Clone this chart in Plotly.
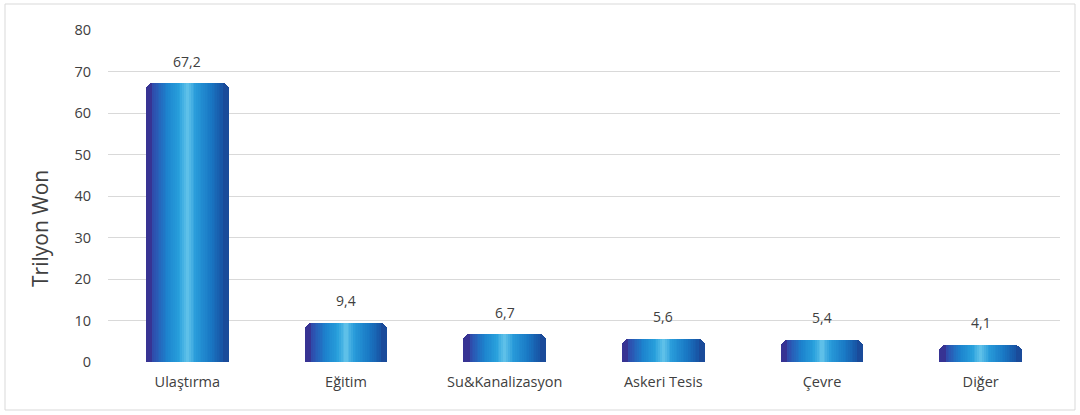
import plotly.graph_objects as go

categories = ["Ulaştırma", "Eğitim", "Su&Kanalizasyon", "Askeri Tesis", "Çevre", "Diğer"]
values = [67.2, 9.4, 6.7, 5.6, 5.4, 4.1]
value_labels = ["67,2", "9,4", "6,7", "5,6", "5,4", "4,1"]
y_ticks = [0, 10, 20, 30, 40, 50, 60, 70, 80]

# horizontal gradient stops (position across bar 0..1, rgb)
stops = [
    (0.00, (58, 44, 140)),
    (0.10, (45, 80, 175)),
    (0.25, (28, 130, 205)),
    (0.40, (40, 160, 220)),
    (0.50, (100, 196, 234)),
    (0.60, (40, 155, 218)),
    (0.78, (25, 120, 196)),
    (0.92, (24, 85, 165)),
    (1.00, (27, 72, 150)),
]

def grad(t):
    for (p0, c0), (p1, c1) in zip(stops[:-1], stops[1:]):
        if p0 <= t <= p1:
            f = (t - p0) / (p1 - p0) if p1 > p0 else 0
            return "rgb(%d,%d,%d)" % tuple(round(a + (b - a) * f) for a, b in zip(c0, c1))
    return "rgb(%d,%d,%d)" % stops[-1][1]

BW = 0.52
EDGE = 0.04
N = 40
FONT = "Open Sans, Lato, sans-serif"

fig = go.Figure()
fig.add_trace(go.Bar(x=categories, y=values, width=BW / 2, offset=-BW / 2,
                     marker=dict(color=grad(0.02), cornerradius=7, line_width=0),
                     hoverinfo="skip", showlegend=False))
fig.add_trace(go.Bar(x=categories, y=values, width=BW / 2, offset=0,
                     marker=dict(color=grad(0.98), cornerradius=7, line_width=0),
                     hoverinfo="skip", showlegend=False))
inner = BW - 2 * EDGE
sw = inner / N
for i in range(N):
    t = (EDGE + (i + 0.5) * sw) / BW
    fig.add_trace(go.Bar(x=categories, y=values, width=sw * 1.15,
                         offset=-BW / 2 + EDGE + i * sw,
                         marker=dict(color=grad(t), line_width=0),
                         hoverinfo="skip", showlegend=False))

for c, v, lab in zip(categories, values, value_labels):
    fig.add_annotation(x=c, y=v, text=lab, showarrow=False, yshift=22,
                       font=dict(family=FONT, size=14, color="#404040"))

# y-axis title (placed like the reference, below plot-center)
fig.add_annotation(xref="paper", yref="paper", x=(40 - 108) / 952, y=(362 - 229) / 332,
                   text="Trilyon Won", textangle=-90, showarrow=False,
                   xanchor="center", yanchor="middle",
                   font=dict(family=FONT, size=21, color="#404040"))

fig.add_shape(type="rect", xref="paper", yref="paper",
              x0=(5 - 108) / 952, x1=(1075 - 108) / 952,
              y0=(362 - 410) / 332, y1=(362 - 4) / 332,
              line=dict(color="#d9d9d9", width=1), fillcolor="rgba(0,0,0,0)", layer="below")

fig.update_layout(
    width=1080, height=415,
    barmode="overlay",
    bargap=0,
    plot_bgcolor="white", paper_bgcolor="white",
    margin=dict(l=108, r=20, t=30, b=53, autoexpand=False),
    font=dict(family=FONT, size=14, color="#404040"),
    xaxis=dict(type="category", showgrid=False, showline=False, ticks="",
               tickfont=dict(family=FONT, size=14.5, color="#404040"), ticklabelstandoff=9),
    yaxis=dict(range=[0, 80], tickvals=y_ticks, showgrid=True, gridcolor="#d9d9d9",
               gridwidth=1, zeroline=False, showline=False,
               ticks="outside", ticklen=13, tickcolor="rgba(0,0,0,0)",
               tickfont=dict(family=FONT, size=14.5, color="#404040")),
)

fig.write_html("out.html", config={"displayModeBar": False},
               post_script="document.body.style.margin='0';")
